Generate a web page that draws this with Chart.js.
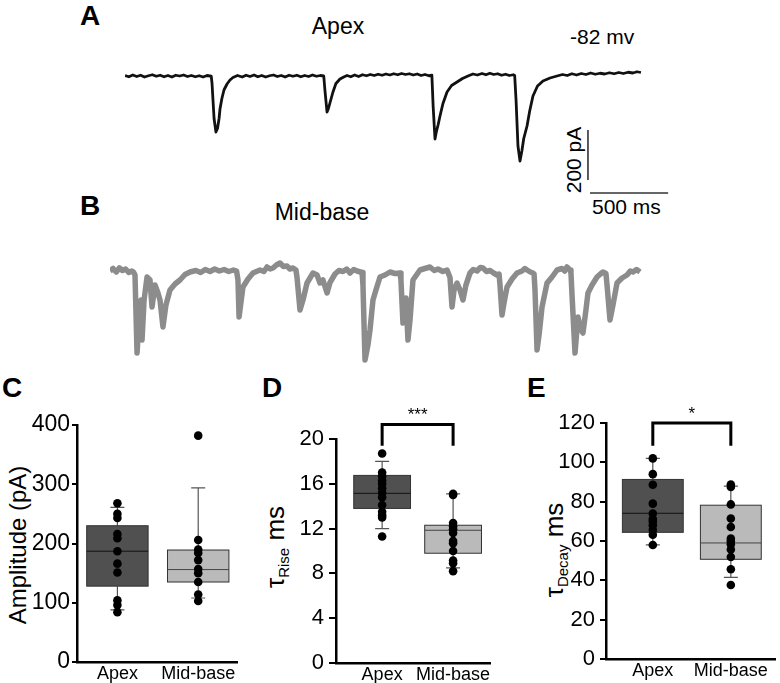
<!DOCTYPE html>
<html lang="en">
<head>
<meta charset="UTF-8">
<title>Apex vs mid-base EPSCs</title>
<script src="https://cdn.jsdelivr.net/npm/chart.js"></script>
<style>
  body { margin:0; width:780px; height:683px; position:relative; overflow:hidden; background:#fff;
         font-family:"Liberation Sans", Arial, sans-serif; color:#000; }
  canvas { position:absolute; }
  .t { position:absolute; line-height:1; white-space:nowrap; }
  .letter { font-weight:bold; font-size:28px; }
  .rot { transform: translate(-50%, -50%) rotate(-90deg); }
  .rot sub { font-size:15px; vertical-align:-5px; }
</style>
</head>
<body>
  <div class="t letter" style="left:80px; top:2px;">A</div>
  <div class="t" style="left:338px; top:15px; font-size:23px; transform:translateX(-50%);">Apex</div>
  <div class="t" style="left:570px; top:26px; font-size:21px;">-82 mv</div>
  <div class="t rot" style="left:573px; top:160px; font-size:21px;">200 pA</div>
  <div class="t" style="left:592px; top:196px; font-size:21px;">500 ms</div>

  <div class="t letter" style="left:80px; top:192px;">B</div>
  <div class="t" style="left:322px; top:201px; font-size:23px; transform:translateX(-50%);">Mid-base</div>

  <div class="t letter" style="left:2px; top:374px;">C</div>
  <div class="t letter" style="left:262px; top:374px;">D</div>
  <div class="t letter" style="left:527px; top:374px;">E</div>

  <div class="t rot" style="left:18px; top:545px; font-size:24px;">Amplitude (pA)</div>
  <div class="t rot" style="left:276px; top:547px; font-size:26px;">τ<sub>Rise</sub> ms</div>
  <div class="t rot" style="left:555px; top:550px; font-size:26px;">τ<sub>Decay</sub> ms</div>

  <canvas id="traceA" width="560" height="160" style="left:125px; top:40px;"></canvas>
  <canvas id="traceB" width="540" height="140" style="left:110px; top:240px;"></canvas>
  <canvas id="boxC" width="245" height="283" style="left:0px; top:400px;"></canvas>
  <canvas id="boxD" width="260" height="283" style="left:260px; top:400px;"></canvas>
  <canvas id="boxE" width="260" height="283" style="left:520px; top:400px;"></canvas>

<script>
// ---- traces: [time ms, current pA] ----
const apexTrace = [[0,2],[25,-3],[50,4],[75,-2],[100,3],[125,-4],[150,1],[175,5],[200,-1],[225,3],[250,-3],[275,2],[300,-4],[325,3],[350,0],[375,4],[400,-2],[425,2],[450,-3],[475,1],[500,-4],[525,2],[552,-1],
  [557,-30],[570,-170],[582,-224],[592,-210],[602,-170],[608,-132],[620,-90],[634,-55],[653,-32],[672,-16],[691,-6],[720,2],[750,-4],[775,3],[800,-2],[826,4],
  [850,-3],[875,2],[900,-4],[925,1],[950,4],[975,-2],[1000,2],[1025,-4],[1050,3],[1075,-1],[1100,3],[1125,-3],[1150,2],[1175,-2],[1200,4],[1225,-1],[1250,2],[1272,0],
  [1280,-60],[1293,-144],[1302,-130],[1315,-100],[1331,-64],[1350,-30],[1376,-12],[1400,-4],[1421,2],[1445,-3],[1470,4],[1495,-2],[1520,5],[1545,1],[1570,6],[1595,2],[1620,7],[1645,3],[1670,8],[1695,4],[1720,9],[1745,5],[1770,10],[1795,6],[1820,9],[1845,4],[1870,8],[1895,2],[1920,6],[1945,1],[1964,3],
  [1972,-120],[1984,-252],[1992,-225],[2004,-195],[2016,-160],[2035,-110],[2061,-64],[2090,-38],[2125,-24],[2160,-10],[2195,0],[2227,8],[2255,4],[2285,10],[2310,5],[2335,11],[2360,6],[2385,9],[2410,3],[2435,7],[2460,2],[2485,5],[2494,2],
  [2503,-100],[2515,-280],[2528,-340],[2540,-300],[2552,-250],[2573,-200],[2590,-140],[2611,-80],[2640,-40],[2675,-20],[2720,-8],[2765,0],[2800,6],[2830,2],[2860,9],[2890,4],[2920,10],[2950,6],[2980,12],[3010,7],[3040,11],[3070,8],[3100,13],[3130,9],[3160,14],[3190,10],[3220,15],[3250,12],[3277,17],[3302,14]];

const midTrace = [[0,-4],[20,6],[40,-8],[60,8],[80,-2],[100,4],[120,-10],[140,-4],[150,-8],
  [160,-20],[173,-332],[186,-200],[198,-120],[205,-280],[218,-120],[237,-28],[256,-40],[269,-148],[288,-60],[307,-92],[320,-120],[339,-228],[358,-140],[384,-80],[416,-56],[448,-40],[480,-18],[512,-8],[550,-2],[580,-10],[610,2],[640,-6],[670,4],[700,-4],[730,2],[760,-6],[790,0],[810,-4],
  [819,-40],[826,-188],[838,-130],[851,-68],[883,-36],[915,-12],[960,0],[985,-6],[1005,12],[1025,4],[1043,8],[1065,20],[1088,28],[1110,14],[1133,16],[1150,4],[1171,8],[1190,0],
  [1197,-30],[1216,-160],[1235,-120],[1261,-52],[1299,-12],[1325,-20],[1344,-52],[1363,-40],[1389,-92],[1408,-50],[1440,-16],[1465,-2],[1491,-6],[1515,4],[1536,-12],[1560,2],[1581,-4],[1613,-10],
  [1619,-60],[1632,-360],[1651,-300],[1664,-240],[1683,-120],[1702,-80],[1728,-28],[1760,-20],[1792,-8],[1824,-14],[1856,-12],
  [1862,-40],[1875,-212],[1888,-150],[1894,-112],[1907,-280],[1920,-200],[1939,-40],[1984,0],[2015,6],[2048,12],[2075,-2],[2099,4],[2130,-6],[2157,0],[2176,-30],
  [2189,-148],[2202,-80],[2221,-52],[2240,-80],[2259,-120],[2278,-60],[2304,-12],[2325,2],[2349,-4],[2370,10],[2387,8],[2410,-6],[2432,-2],[2455,-12],[2477,-20],[2490,-16],
  [2496,-60],[2509,-180],[2522,-130],[2541,-68],[2573,-36],[2605,-12],[2637,-4],[2655,6],[2669,0],[2690,-8],[2707,-12],[2714,-16],
  [2720,-80],[2733,-320],[2746,-260],[2765,-148],[2797,-52],[2829,-28],[2861,0],[2893,6],[2910,-4],[2925,12],[2944,0],[2950,-10],
  [2957,-100],[2976,-332],[2995,-188],[3014,-240],[3027,-252],[3046,-160],[3059,-92],[3085,-60],[3117,-28],[3135,-18],[3155,-8],[3174,-14],
  [3181,-60],[3200,-200],[3219,-140],[3245,-52],[3277,-32],[3309,-20],[3330,-4],[3347,-8],[3370,2],[3392,-8]];

const scaleBarPA = 200;
const scaleBarMS = 500;

// ---- box plot panels ----
const groups = ['Apex', 'Mid-base'];

const ampApex = [268, 250, 243, 216, 209, 187, 166, 151, 104, 96, 84];
const ampMid  = [382, 206, 190, 184, 172, 157, 150, 135, 114, 103];
const ampStats = [[88, 128, 187, 230, 261], [108, 135, 156, 189, 294]]; // min, q1, median, q3, max

const riseApex = [18.7, 17.0, 16.7, 16.3, 16.0, 15.6, 15.2, 14.8, 14.1, 13.5, 13.2, 13.0, 11.3];
const riseMid  = [15.1, 15.0, 12.5, 12.2, 11.95, 11.6, 10.9, 10.7, 10.0, 9.15, 8.9, 8.2];
const riseStats = [[12.0, 13.8, 15.15, 16.75, 18.0], [8.5, 9.8, 11.85, 12.3, 15.1]];

const decayApex = [102, 94, 88.6, 79, 74, 71.2, 69.9, 68, 65.6, 63.2, 58];
const decayMid  = [88.7, 87.5, 78.6, 71.4, 67.1, 61.2, 59.7, 58.3, 55.7, 51.9, 45.6, 37.6];
const decayStats = [[58, 64.4, 74.1, 91.3, 102], [41.5, 50.7, 59, 78.2, 87.9]];

Chart.defaults.font.family = '"Liberation Sans", Arial, sans-serif';
Chart.defaults.color = '#000';
Chart.defaults.animation = false;

function pts(pairs) { return pairs.map(p => ({ x: p[0], y: p[1] })); }

function traceChart(id, data, color, width, xMax, yMin, yMax, extra) {
  return new Chart(document.getElementById(id), {
    type: 'line',
    data: { datasets: [{ data: data, borderColor: color, borderWidth: width, pointRadius: 0, tension: 0, clip: false, borderJoinStyle: 'round' }].concat(extra || []) },
    options: {
      responsive: false,
      events: [],
      layout: { padding: 0 },
      plugins: { legend: { display: false }, tooltip: { enabled: false } },
      scales: {
        x: { type: 'linear', display: false, min: 0, max: xMax },
        y: { display: false, min: yMin, max: yMax }
      }
    }
  });
}

// scale bars live in chart A's data units
const barT = 2963, barTop = -216, barY = -468;
const barStyle = { borderColor: '#333', borderWidth: 1.6, pointRadius: 0, clip: false };
traceChart('traceA', pts(apexTrace), '#111', 2.8, 3584, -496, 144, [
  Object.assign({ data: [{ x: barT, y: barTop }, { x: barT, y: barTop - scaleBarPA }] }, barStyle),
  Object.assign({ data: [{ x: barT + 13, y: barY }, { x: barT + 13 + scaleBarMS, y: barY }] }, barStyle)
]);
traceChart('traceB', pts(midTrace), '#8c8c8c', 5.5, 3456, -440, 120);

function boxChart(id, apex, mid, stats, o) {
  const boxPlugin = {
    id: 'boxes',
    beforeDatasetsDraw(chart) {
      const ctx = chart.ctx, xs = chart.scales.x, ys = chart.scales.y;
      const fills = ['#505050', '#bababa'];
      stats.forEach((s, i) => {
        const cx = xs.getPixelForValue(i + 1);
        const hw = xs.getPixelForValue(i + 1 + o.halfWidth) - cx;
        const [lo, q1, med, q3, hi] = s.map(v => ys.getPixelForValue(v));
        ctx.save();
        ctx.strokeStyle = '#555';
        ctx.lineWidth = 1.2;
        ctx.beginPath();
        ctx.moveTo(cx, q3); ctx.lineTo(cx, hi);
        ctx.moveTo(cx, q1); ctx.lineTo(cx, lo);
        ctx.moveTo(cx - 7, hi); ctx.lineTo(cx + 7, hi);
        ctx.moveTo(cx - 7, lo); ctx.lineTo(cx + 7, lo);
        ctx.stroke();
        ctx.fillStyle = fills[i];
        ctx.fillRect(cx - hw, q3, 2 * hw, q1 - q3);
        ctx.strokeStyle = '#333';
        ctx.lineWidth = 1;
        ctx.strokeRect(cx - hw, q3, 2 * hw, q1 - q3);
        ctx.strokeStyle = i === 0 ? '#111' : '#444';
        ctx.beginPath();
        ctx.moveTo(cx - hw, med); ctx.lineTo(cx + hw, med);
        ctx.stroke();
        ctx.restore();
      });
    },
    afterDraw(chart) {
      if (!o.bracket) return;
      const ctx = chart.ctx, xs = chart.scales.x, ys = chart.scales.y;
      const x1 = xs.getPixelForValue(1), x2 = xs.getPixelForValue(2);
      const yl = ys.getPixelForValue(o.bracket[0]), yt = ys.getPixelForValue(o.bracket[1]);
      ctx.save();
      ctx.strokeStyle = '#000';
      ctx.lineWidth = 3;
      ctx.beginPath();
      ctx.moveTo(x1, yl); ctx.lineTo(x1, yt); ctx.lineTo(x2, yt); ctx.lineTo(x2, yl);
      ctx.stroke();
      ctx.fillStyle = '#000';
      ctx.font = '17px "Liberation Sans", Arial, sans-serif';
      ctx.textAlign = 'center';
      ctx.textBaseline = 'alphabetic';
      ctx.fillText(o.stars, (x1 + x2) / 2, yt - 4);
      ctx.restore();
    }
  };
  return new Chart(document.getElementById(id), {
    type: 'scatter',
    data: {
      datasets: [
        { data: apex.map(v => ({ x: 1, y: v })), backgroundColor: '#000', pointRadius: 4.3, borderWidth: 0, clip: false },
        { data: mid.map(v => ({ x: 2, y: v })), backgroundColor: '#000', pointRadius: 4.3, borderWidth: 0, clip: false }
      ]
    },
    options: {
      responsive: false,
      events: [],
      layout: { padding: { top: o.padTop, right: o.padRight, left: 0, bottom: 0 } },
      plugins: { legend: { display: false }, tooltip: { enabled: false } },
      scales: {
        x: {
          type: 'linear', min: o.xMin, max: o.xMax,
          afterBuildTicks: s => { s.ticks = [{ value: 1 }, { value: 2 }]; },
          afterFit: s => { s.height = o.xHeight; },
          grid: { display: false, drawTicks: false },
          border: { display: true, color: '#000', width: 2.5 },
          ticks: { padding: 1, font: { size: 18 }, color: '#000', maxRotation: 0, callback: v => groups[Math.round(v) - 1] }
        },
        y: {
          min: 0, max: o.yMax,
          afterFit: s => { s.width = o.yWidth; },
          grid: { display: true, drawOnChartArea: false, drawTicks: true, tickLength: o.tickLen, color: '#000', lineWidth: 2 },
          border: { display: true, color: '#000', width: 2.5 },
          ticks: { stepSize: o.step, padding: o.tickPad, font: { size: o.tickSize }, color: '#000' }
        }
      }
    },
    plugins: [boxPlugin]
  });
}

boxChart('boxC', ampApex, ampMid, ampStats, {
  xMin: 0.5, xMax: 2.48, yMax: 400, step: 100, halfWidth: 0.38,
  padTop: 25, padRight: 8, yWidth: 77, xHeight: 21, tickSize: 23, tickLen: 5, tickPad: 2
});
boxChart('boxD', riseApex, riseMid, riseStats, {
  xMin: 0.35, xMax: 2.52, yMax: 20, step: 4, halfWidth: 0.4,
  padTop: 39, padRight: 30, yWidth: 76, xHeight: 20, tickSize: 22, tickLen: 7, tickPad: 5,
  bracket: [19.4, 21.3], stars: '***'
});
boxChart('boxE', decayApex, decayMid, decayStats, {
  xMin: 0.4, xMax: 2.575, yMax: 120, step: 20, halfWidth: 0.39,
  padTop: 23, padRight: 0, yWidth: 86, xHeight: 24, tickSize: 22, tickLen: 6, tickPad: 5,
  bracket: [108.4, 120], stars: '*'
});
</script>
</body>
</html>
